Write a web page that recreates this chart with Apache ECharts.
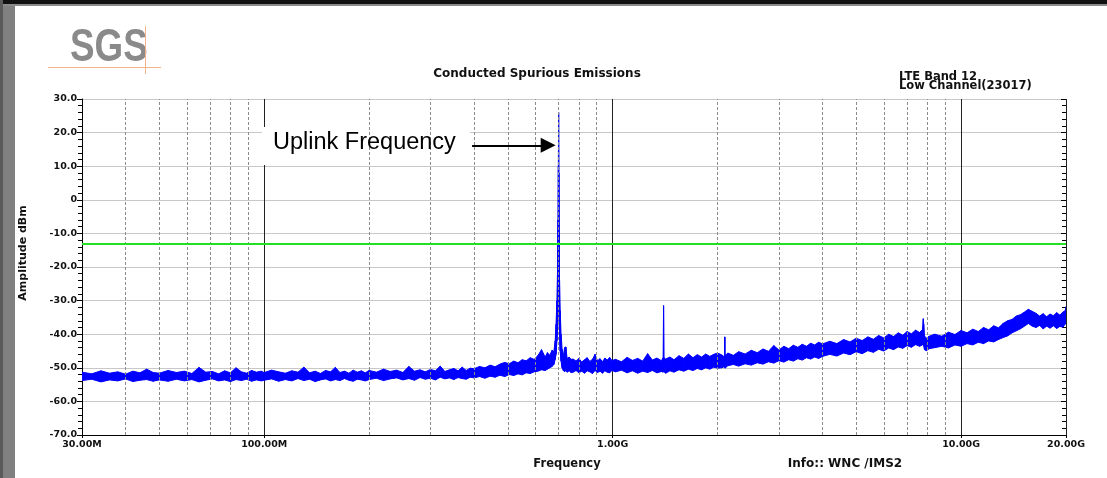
<!DOCTYPE html>
<html>
<head>
<meta charset="utf-8">
<title>Conducted Spurious Emissions</title>
<script src="https://cdn.jsdelivr.net/npm/echarts@6/dist/echarts.min.js"></script>
<style>
  html, body { margin: 0; padding: 0; background: #fff; }
  #main { width: 1107px; height: 478px; }
</style>
</head>
<body>
<div id="main"></div>
<script>
// analyzer trace: frequency (MHz) with the lower / upper edge of the noise band (dBm)
const bandFreqMHz = [
  30, 32, 34, 36, 38, 40, 42, 44, 46, 48,
  50, 53, 56, 59, 62, 65, 68, 71, 74, 77, 80, 83, 86, 89, 92, 95, 98,
  100, 105, 110, 115, 120, 125, 130, 135, 140, 145, 150, 155, 160, 165, 170, 175, 180, 185, 190, 195,
  200, 210, 220, 230, 240, 250, 260, 270, 280, 290, 300, 310, 320, 330, 340, 350, 360, 370, 380, 390,
  400, 415, 430, 445, 460, 475, 490, 505, 520, 535, 550, 565, 580, 595, 610, 625, 640,
  650, 660, 670, 678, 684, 688, 692, 695, 697, 698.5, 699.7, 701, 702.5, 704, 707, 711, 716, 722, 728, 734, 740, 750, 760,
  770, 785, 800, 815, 830, 845, 860, 875, 890, 905, 920, 935, 950, 965, 980, 995,
  1020, 1060, 1100, 1140, 1180, 1220, 1260, 1300, 1340, 1380, 1396, 1400, 1404, 1420, 1460, 1500, 1550, 1600, 1650, 1700, 1750, 1800, 1850, 1900, 1950, 2000,
  2060, 2094, 2098, 2102, 2140, 2220, 2300, 2400, 2500, 2600, 2700, 2800, 2900, 3000, 3100, 3200, 3300, 3400, 3500, 3600, 3700, 3800, 3900, 4000,
  4200, 4400, 4600, 4800, 5000, 5200, 5400, 5600, 5800, 6000, 6200, 6400, 6600, 6800, 7000, 7200, 7400, 7600, 7750, 7790, 7810, 7850, 7950, 8100,
  8400, 8800, 9200, 9600, 10000, 10400, 10800, 11200, 11600, 12000, 12400, 12800, 13200, 13600, 14000, 14400, 14800, 15200, 15600, 16000,
  16400, 16800, 17200, 17600, 18000, 18400, 18800, 19200, 19600, 19900, 20000
];
const bandHighDbm = [
  -51.3, -51.8, -50.9, -51.6, -51.2, -51.9, -51.0, -51.5, -50.4, -51.4,
  -51.6, -50.8, -51.4, -51.0, -51.7, -49.9, -51.3, -51.1, -51.8, -50.9, -51.5, -50.0, -51.2, -51.6, -50.8, -51.3, -51.0,
  -51.4, -50.7, -51.2, -51.6, -50.9, -51.3, -49.8, -51.5, -51.0, -51.7, -50.8, -51.2, -49.9, -51.4, -51.0, -51.6, -50.7, -51.3, -50.9, -51.5,
  -50.8, -51.3, -50.4, -51.1, -50.7, -51.4, -49.6, -51.0, -50.6, -51.2, -50.5, -50.9, -49.5, -51.1, -50.6, -50.2, -50.9, -49.8, -50.8, -50.1,
  -50.3, -49.6, -50.0, -49.2, -49.7, -48.9, -48.4, -48.8, -48.0, -48.5, -47.6, -47.9, -47.0, -47.5, -46.4, -44.6, -46.8,
  -45.5, -46.3, -44.8, -45.2, -42.0, -37.0, -30.0, -20.0, -6.0, 10.0, 26.0, 8.0, -10.0, -24.0, -33.0, -40.0, -44.5, -46.5, -44.0, -43.8, -47.2, -46.8, -47.5,
  -47.4, -48.0, -47.2, -48.3, -47.6, -47.0, -48.1, -47.5, -46.0, -47.9, -47.3, -48.2, -47.1, -47.7, -46.9, -47.8,
  -47.5, -48.2, -46.9, -47.8, -47.2, -48.0, -45.8, -47.7, -47.1, -47.9, -47.0, -31.5, -47.0, -47.4, -46.8, -47.6, -46.4, -47.2, -45.9, -47.0, -46.1, -46.8, -45.9, -46.6, -46.0, -45.6,
  -46.2, -46.8, -40.8, -46.5, -45.6, -46.3, -45.2, -45.9, -44.8, -45.5, -44.4, -45.1, -43.4, -44.7, -43.6, -44.3, -43.3, -43.9, -43.0, -43.6, -42.7, -43.2, -42.4, -42.9,
  -42.1, -42.8, -41.6, -42.3, -41.2, -41.9, -40.8, -41.5, -40.4, -41.1, -40.0, -40.7, -39.6, -40.3, -39.2, -39.9, -38.8, -39.5, -38.6, -35.4, -37.0, -40.5, -41.2, -40.6,
  -40.0, -40.6, -39.4, -40.1, -38.9, -39.6, -38.5, -39.2, -38.0, -38.7, -37.5, -38.1, -36.8, -36.0, -35.6, -34.6, -34.2, -33.4, -32.6, -33.2,
  -33.8, -34.6, -33.9, -34.8, -34.0, -34.5, -33.6, -34.3, -33.4, -33.0, -31.8
];
const bandLowDbm = [
  -53.8, -53.4, -54.2, -53.6, -53.9, -53.3, -54.1, -53.7, -53.5, -54.0,
  -53.6, -54.0, -53.4, -53.9, -53.5, -54.2, -53.7, -53.3, -53.9, -53.6, -54.1, -53.5, -53.8, -53.4, -54.0, -53.6, -53.9,
  -53.7, -53.3, -54.0, -53.5, -53.9, -53.2, -53.8, -53.4, -54.1, -53.6, -53.3, -53.9, -53.5, -53.8, -53.2, -53.7, -54.0, -53.4, -53.6, -53.9,
  -53.5, -53.1, -53.8, -53.3, -53.0, -53.6, -53.2, -53.7, -52.9, -53.4, -53.1, -53.6, -52.8, -53.3, -53.0, -53.5, -52.9, -53.2, -53.4, -52.8,
  -53.0, -52.6, -53.1, -52.5, -52.8, -52.2, -52.6, -52.0, -52.3, -51.8, -52.1, -51.5, -51.7, -51.2, -51.0, -50.6, -50.8,
  -50.4, -50.0, -49.6, -49.0, -47.5, -46.0, -42.0, -38.0, -34.0, -30.0, -28.0, -32.0, -36.0, -40.0, -45.0, -48.0, -50.0, -50.8, -51.2, -50.6, -51.3, -50.9, -51.4,
  -51.3, -50.8, -51.5, -51.0, -51.6, -50.9, -51.2, -51.7, -50.8, -51.4, -51.0, -51.6, -50.9, -51.3, -51.5, -50.8,
  -51.2, -50.7, -51.5, -50.9, -51.6, -51.0, -51.4, -50.8, -51.5, -51.1, -51.3, -51.0, -51.2, -51.6, -50.9, -51.3, -50.6, -51.0, -50.4, -50.8, -50.2, -50.6, -50.0, -50.4, -49.8, -50.1,
  -50.0, -49.6, -49.8, -50.1, -49.4, -49.0, -49.5, -48.8, -49.2, -48.5, -48.9, -48.2, -48.6, -47.9, -48.3, -47.6, -48.0, -47.3, -47.7, -47.0, -47.4, -46.8, -47.2, -46.6,
  -46.0, -46.5, -45.6, -46.1, -45.2, -45.8, -44.9, -45.4, -44.5, -45.0, -44.1, -44.6, -43.8, -44.2, -43.4, -43.9, -43.1, -43.6, -43.2, -42.8, -43.5, -44.6, -44.9, -44.3,
  -44.0, -43.6, -44.1, -43.2, -43.6, -42.8, -43.2, -42.4, -42.8, -42.0, -42.3, -41.6, -41.0, -40.5, -39.6, -39.0, -38.4, -37.6, -36.8, -37.6,
  -38.0, -37.4, -38.4, -37.6, -38.2, -37.5, -38.3, -37.7, -37.9, -37.0, -36.3
];

// dashed log grid lines between the decades (MHz)
const minorGridMHz = [40, 50, 60, 70, 80, 90, 200, 300, 400, 500, 600, 700, 800, 900,
  2000, 3000, 4000, 5000, 6000, 7000, 8000, 9000];
const limitDbm = -13;
// "Uplink Frequency" arrow: from / to (MHz) at level (dBm)
const arrowFromMHz = 395;
const arrowToMHz = 653;
const arrowDbm = 16.2;

const chart = echarts.init(document.getElementById('main'));
const smallBold = 'bold 11.5px "DejaVu Sans", sans-serif';

function fmtFreq(v) {
  const mhz = Math.round(v / 1e6);
  if (mhz >= 1000) return (mhz / 1000).toFixed(2) + 'G';
  return mhz.toFixed(2) + 'M';
}

// fill the band between two neighbouring sweep points
function renderBand(params, api) {
  const i = params.dataIndex;
  if (i >= bandFreqMHz.length - 1) return null;
  const f0 = bandFreqMHz[i] * 1e6, f1 = bandFreqMHz[i + 1] * 1e6;
  const pts = [
    api.coord([f0, bandHighDbm[i]]),
    api.coord([f1, bandHighDbm[i + 1]]),
    api.coord([f1, bandLowDbm[i + 1]]),
    api.coord([f0, bandLowDbm[i]])
  ];
  return {
    type: 'polygon',
    shape: { points: pts },
    style: { fill: '#0000ff', stroke: '#0000ff', lineWidth: 1 }
  };
}

const axisFont = { fontFamily: 'DejaVu Sans', fontWeight: 'bold', fontSize: 9.5, color: '#111' };

chart.setOption({
  animation: false,
  backgroundColor: '#fff',
  grid: { left: 82, right: 41, top: 99, bottom: 43 },
  xAxis: {
    type: 'log',
    logBase: 10,
    min: 30e6,
    max: 20e9,
    axisLine: { onZero: false, lineStyle: { color: '#000', width: 1 } },
    axisTick: { show: true, length: 3, lineStyle: { color: '#000' } },
    axisLabel: Object.assign({ margin: 5, showMinLabel: true, showMaxLabel: true, formatter: fmtFreq }, axisFont),
    splitLine: { show: true, lineStyle: { color: '#222', width: 1 } }
  },
  yAxis: [{
    type: 'value',
    min: -70,
    max: 30,
    interval: 10,
    axisLine: { show: true, onZero: false, lineStyle: { color: '#000' } },
    axisTick: { show: true, length: 5, inside: false, lineStyle: { color: '#000' } },
    minorTick: { show: true, splitNumber: 5, length: 4, lineStyle: { color: '#000', width: 1 } },
    axisLabel: Object.assign({ margin: 5, formatter: v => v === 0 ? '0' : v.toFixed(1) }, axisFont),
    splitLine: { show: true, lineStyle: { color: '#c8c8c8', width: 1 } }
  }, {
    type: 'value',
    min: -70,
    max: 30,
    interval: 10,
    axisLine: { show: false, onZero: false },
    axisTick: { show: true, length: 5, inside: true, lineStyle: { color: '#000' } },
    minorTick: { show: true, splitNumber: 5, length: 4, lineStyle: { color: '#000', width: 1 } },
    axisLabel: { show: false },
    splitLine: { show: false }
  }],
  graphic: [
    { type: 'rect', silent: true, shape: { x: 0, y: 0, width: 1107, height: 4 }, style: { fill: '#111' } },
    { type: 'rect', silent: true, shape: { x: 0, y: 4, width: 1107, height: 2 }, style: { fill: '#8a8a8a' } },
    { type: 'rect', silent: true, shape: { x: 0, y: 0, width: 3, height: 478 }, style: { fill: '#5a5a5a' } },
    { type: 'rect', silent: true, shape: { x: 3, y: 6, width: 12, height: 472 }, style: { fill: '#808080' } },
    { type: 'text', silent: true, x: 70, y: 48, scaleX: 0.8, style: { text: 'SGS', font: 'bold 46px "Liberation Sans", Arial, sans-serif', fill: '#8a8a8a', verticalAlign: 'middle' } },
    { type: 'line', silent: true, shape: { x1: 48, y1: 67.5, x2: 161, y2: 67.5 }, style: { stroke: '#f4b48a', lineWidth: 1 } },
    { type: 'line', silent: true, shape: { x1: 145.5, y1: 26, x2: 145.5, y2: 74 }, style: { stroke: '#f4b48a', lineWidth: 1 } },
    { type: 'text', silent: true, x: 537, y: 74, style: { text: 'Conducted Spurious Emissions', font: 'bold 12px "DejaVu Sans", sans-serif', fill: '#111', align: 'center', verticalAlign: 'middle' } },
    { type: 'text', silent: true, x: 899, y: 77.5, style: { text: 'LTE Band 12', font: smallBold, fill: '#111', verticalAlign: 'middle' } },
    { type: 'text', silent: true, x: 899, y: 86, style: { text: 'Low Channel(23017)', font: smallBold, fill: '#111', verticalAlign: 'middle' } },
    { type: 'text', silent: true, x: 23, y: 253, rotation: Math.PI / 2, style: { text: 'Amplitude dBm', font: 'bold 11px "DejaVu Sans", sans-serif', fill: '#111', align: 'center', verticalAlign: 'middle' } },
    { type: 'text', silent: true, x: 567, y: 464, style: { text: 'Frequency', font: smallBold, fill: '#111', align: 'center', verticalAlign: 'middle' } },
    { type: 'text', silent: true, x: 845, y: 464, style: { text: 'Info:: WNC /IMS2', font: 'bold 12px "DejaVu Sans", sans-serif', fill: '#111', align: 'center', verticalAlign: 'middle' } },
    { type: 'rect', silent: true, z: 5, shape: { x: 262, y: 127, width: 208, height: 38 }, style: { fill: '#fff' } },
    { type: 'text', silent: true, z: 6, x: 273, y: 143, style: { text: 'Uplink Frequency', font: '23.5px "Liberation Sans", Arial, sans-serif', fill: '#000', verticalAlign: 'middle' } }
  ],
  series: [{
    // dashed minor grid, limit line and annotation arrow
    type: 'line',
    data: [],
    z: 1,
    silent: true,
    markLine: {
      silent: true,
      symbol: 'none',
      animation: false,
      label: { show: false },
      lineStyle: { color: '#8c8c8c', type: [3, 2], width: 1 },
      data: minorGridMHz.map(m => ({ xAxis: m * 1e6 })).concat([
        { yAxis: limitDbm, lineStyle: { color: '#22e022', width: 2, type: 'solid' } },
        [
          { coord: [arrowFromMHz * 1e6, arrowDbm], symbol: 'none', lineStyle: { color: '#000', width: 2, type: 'solid' } },
          { coord: [arrowToMHz * 1e6, arrowDbm], symbol: 'triangle', symbolSize: 15 }
        ]
      ])
    }
  }, {
    name: 'Trace',
    type: 'custom',
    z: 3,
    silent: true,
    clip: true,
    renderItem: renderBand,
    encode: { x: 0, y: [1, 2] },
    data: bandFreqMHz.map((f, i) => [f * 1e6, bandLowDbm[i], bandHighDbm[i]])
  }]
});
</script>
</body>
</html>
